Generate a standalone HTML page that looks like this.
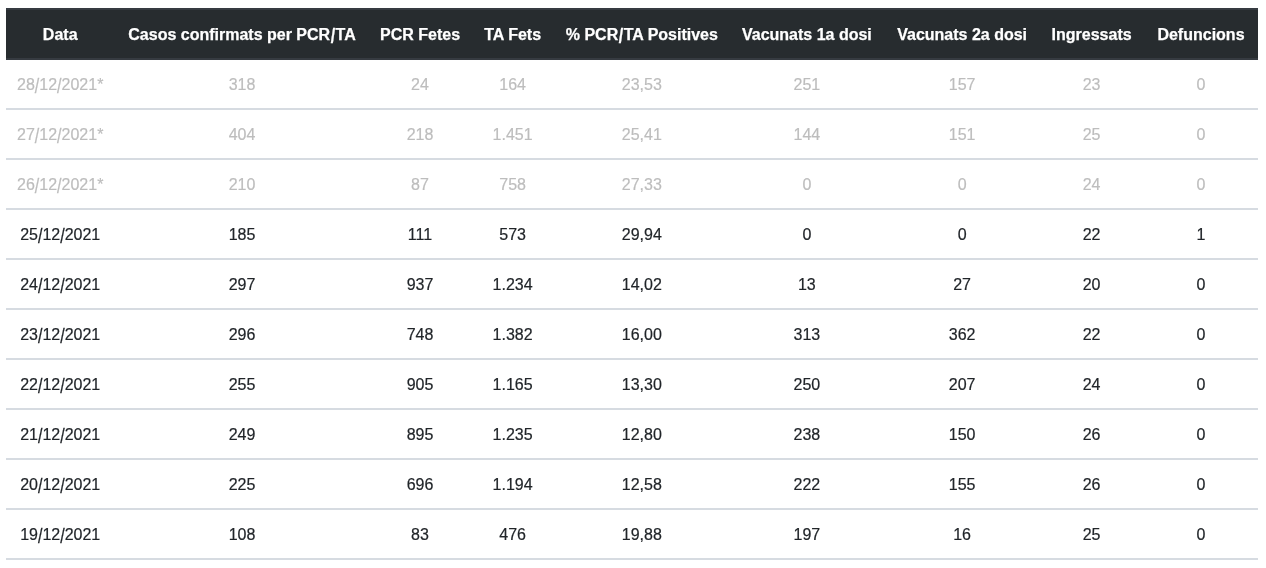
<!DOCTYPE html><html><head><meta charset="utf-8"><style>
*{box-sizing:border-box;margin:0;padding:0}
html,body{background:#fff;width:1266px;height:568px;overflow:hidden}
body{font-family:"Liberation Sans",sans-serif;font-size:16px;color:#212529}
table{will-change:transform;position:absolute;left:6px;top:8px;width:1252px;border-collapse:separate;border-spacing:0;table-layout:fixed}
th{-webkit-text-stroke:0.25px currentColor;background:#272c2f;color:#fff;font-weight:bold;height:52px;text-align:center;padding:2px 1px 0 0;vertical-align:middle}
td{-webkit-text-stroke:0.2px currentColor;height:50px;box-sizing:border-box;text-align:center;padding:2px 1px 0 0;border-bottom:2px solid #d6dbe1;vertical-align:middle}
tr.p td{color:#bdbdbd}

.fr{position:absolute;left:6px;top:8px;width:1252px;height:52px;border-top:2px solid #363b41;border-bottom:2px solid #363b41;pointer-events:none}
th:first-child,td:first-child{padding-right:2px}
.sl{display:inline-block;transform:translateY(1.2px) scaleY(1.28)}
.hs{margin:0 0.5px}
th:nth-child(7),td:nth-child(7){padding-right:0;padding-left:1px}
</style></head><body><table><colgroup>
<col style="width:110.4px">
<col style="width:252.25px">
<col style="width:103.75px">
<col style="width:81.5px">
<col style="width:176.9px">
<col style="width:153.2px">
<col style="width:155.3px">
<col style="width:105.7px">
<col style="width:113px">
</colgroup><thead><tr>
<th>Data</th>
<th>Casos confirmats per PCR<span class="sl hs">/</span>TA</th>
<th>PCR Fetes</th>
<th>TA Fets</th>
<th>% PCR<span class="sl hs">/</span>TA Positives</th>
<th>Vacunats 1a dosi</th>
<th>Vacunats 2a dosi</th>
<th>Ingressats</th>
<th>Defuncions</th>
</tr></thead><tbody>
<tr class="p"><td>28<span class="sl">/</span>12<span class="sl">/</span>2021*</td><td>318</td><td>24</td><td>164</td><td>23,53</td><td>251</td><td>157</td><td>23</td><td>0</td></tr>
<tr class="p"><td>27<span class="sl">/</span>12<span class="sl">/</span>2021*</td><td>404</td><td>218</td><td>1.451</td><td>25,41</td><td>144</td><td>151</td><td>25</td><td>0</td></tr>
<tr class="p"><td>26<span class="sl">/</span>12<span class="sl">/</span>2021*</td><td>210</td><td>87</td><td>758</td><td>27,33</td><td>0</td><td>0</td><td>24</td><td>0</td></tr>
<tr><td>25<span class="sl">/</span>12<span class="sl">/</span>2021</td><td>185</td><td>111</td><td>573</td><td>29,94</td><td>0</td><td>0</td><td>22</td><td>1</td></tr>
<tr><td>24<span class="sl">/</span>12<span class="sl">/</span>2021</td><td>297</td><td>937</td><td>1.234</td><td>14,02</td><td>13</td><td>27</td><td>20</td><td>0</td></tr>
<tr><td>23<span class="sl">/</span>12<span class="sl">/</span>2021</td><td>296</td><td>748</td><td>1.382</td><td>16,00</td><td>313</td><td>362</td><td>22</td><td>0</td></tr>
<tr><td>22<span class="sl">/</span>12<span class="sl">/</span>2021</td><td>255</td><td>905</td><td>1.165</td><td>13,30</td><td>250</td><td>207</td><td>24</td><td>0</td></tr>
<tr><td>21<span class="sl">/</span>12<span class="sl">/</span>2021</td><td>249</td><td>895</td><td>1.235</td><td>12,80</td><td>238</td><td>150</td><td>26</td><td>0</td></tr>
<tr><td>20<span class="sl">/</span>12<span class="sl">/</span>2021</td><td>225</td><td>696</td><td>1.194</td><td>12,58</td><td>222</td><td>155</td><td>26</td><td>0</td></tr>
<tr><td>19<span class="sl">/</span>12<span class="sl">/</span>2021</td><td>108</td><td>83</td><td>476</td><td>19,88</td><td>197</td><td>16</td><td>25</td><td>0</td></tr>
</tbody></table><div class="fr"></div></body></html>
